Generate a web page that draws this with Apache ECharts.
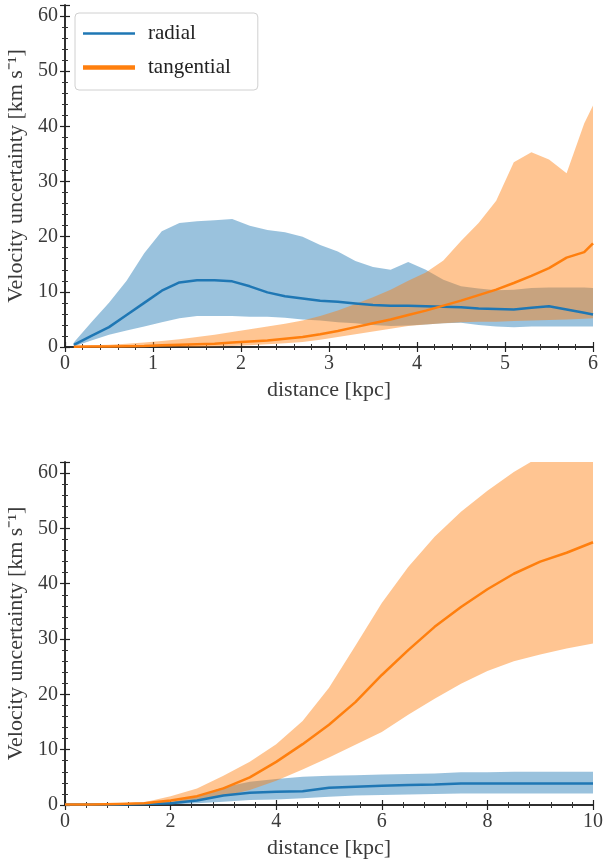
<!DOCTYPE html>
<html>
<head>
<meta charset="utf-8">
<script src="https://cdn.jsdelivr.net/npm/echarts@6/dist/echarts.min.js"></script>
<style>
  html, body { margin: 0; padding: 0; background: #fff; }
  #chart { width: 605px; height: 863px; }
</style>
</head>
<body>
<div id="chart"></div>
<script>
// ---- upper panel: distances out to 6 kpc ----
const distTop = [0.1, 0.3, 0.5, 0.7, 0.9, 1.1, 1.3, 1.5, 1.7, 1.9, 2.1, 2.3, 2.5, 2.7, 2.9, 3.1,
                 3.3, 3.5, 3.7, 3.9, 4.1, 4.3, 4.5, 4.7, 4.9, 5.1, 5.3, 5.5, 5.7, 5.9, 6.0];
const radialTop = [0.4, 2.0, 3.6, 5.8, 8.0, 10.2, 11.7, 12.1, 12.1, 11.9, 11.0, 9.9, 9.2, 8.8, 8.4, 8.2,
                   7.9, 7.6, 7.5, 7.5, 7.4, 7.3, 7.2, 7.0, 6.9, 6.8, 7.1, 7.4, 6.8, 6.2, 5.9];
const radialTopHi = [0.8, 4.5, 8.0, 12.0, 17.0, 21.0, 22.5, 22.8, 23.0, 23.2, 22.0, 21.2, 20.8, 20.0, 18.5, 17.3,
                     15.6, 14.5, 14.0, 15.4, 14.0, 12.2, 11.0, 10.6, 10.3, 10.4, 10.7, 10.8, 10.8, 10.8, 10.7];
const radialTopLo = [0.1, 1.2, 2.2, 3.0, 3.7, 4.5, 5.2, 5.6, 5.6, 5.6, 5.5, 5.5, 5.3, 5.0, 4.8, 4.5,
                     4.3, 4.0, 3.8, 3.9, 4.1, 4.3, 4.4, 4.0, 3.7, 3.6, 3.7, 3.7, 3.7, 3.7, 3.7];
const tangTop = [0.05, 0.1, 0.1, 0.15, 0.2, 0.3, 0.4, 0.5, 0.6, 0.8, 1.0, 1.2, 1.5, 1.8, 2.3, 2.9,
                 3.6, 4.3, 5.0, 5.8, 6.6, 7.5, 8.4, 9.4, 10.4, 11.6, 12.9, 14.3, 16.2, 17.2, 18.8];
const tangTopHi = [0.2, 0.3, 0.4, 0.6, 0.8, 1.1, 1.4, 1.8, 2.2, 2.7, 3.2, 3.7, 4.2, 4.8, 5.6, 6.6,
                   7.8, 9.0, 10.4, 12.0, 13.5, 15.7, 19.2, 22.5, 26.5, 33.5, 35.3, 34.0, 31.5, 40.5, 43.8];
const tangTopLo = [0.0, 0.0, 0.0, 0.0, 0.0, 0.0, 0.0, 0.0, 0.1, 0.2, 0.3, 0.5, 0.7, 0.9, 1.3, 1.8,
                   2.3, 2.8, 3.3, 3.8, 4.1, 4.3, 4.5, 4.6, 4.6, 4.7, 4.8, 4.9, 5.0, 5.1, 5.2];

// ---- lower panel: distances out to 10 kpc ----
const distBot = [0, 0.5, 1, 1.5, 2, 2.5, 3, 3.5, 4, 4.5, 5, 5.5, 6, 6.5, 7, 7.5, 8, 8.5, 9, 9.5, 10];
const radialBot = [0.1, 0.1, 0.1, 0.2, 0.3, 0.8, 1.7, 2.2, 2.4, 2.5, 3.1, 3.3, 3.5, 3.6, 3.7, 3.9, 3.9, 3.9, 3.9, 3.9, 3.9];
const radialBotHi = [0.2, 0.2, 0.2, 0.3, 0.5, 1.6, 3.2, 4.2, 4.7, 5.1, 5.3, 5.4, 5.5, 5.6, 5.7, 5.9, 5.9, 6.0, 6.0, 6.0, 6.0];
const radialBotLo = [0, 0, 0, 0.05, 0.1, 0.3, 0.6, 0.9, 1.0, 1.2, 1.5, 1.7, 1.8, 1.9, 2.0, 2.1, 2.1, 2.1, 2.1, 2.1, 2.1];
const tangBot = [0.1, 0.1, 0.2, 0.3, 0.8, 1.6, 3.0, 5.0, 7.8, 11.0, 14.5, 18.6, 23.5, 28.0, 32.2, 35.8, 39.0, 41.8, 44.0, 45.6, 47.5];
const tangBotHi = [0.2, 0.2, 0.3, 0.5, 1.6, 3.0, 5.3, 7.8, 11.0, 15.2, 21.2, 28.8, 36.5, 43.0, 48.5, 53.0, 56.8, 60.2, 63.0, 65.0, 67.0];
const tangBotLo = [0, 0, 0, 0.1, 0.3, 0.8, 1.6, 2.7, 4.4, 6.4, 8.6, 10.9, 13.2, 16.3, 19.2, 21.9, 24.2, 26.0, 27.2, 28.3, 29.2];

const yTicks = [0, 10, 20, 30, 40, 50, 60];
const yMax = 62;

const BLUE = '#1f77b4';
const ORANGE = '#ff7f0e';
const BLUE_BAND = 'rgba(31,119,180,0.45)';
const ORANGE_BAND = 'rgba(255,127,14,0.45)';
const FONT = 'Liberation Serif';

const pair = (xs, ys) => xs.map((x, i) => [x, ys[i]]);

// filled band between a lower and an upper curve, drawn as one polygon
function band(xs, lo, hi, color, axisIdx) {
  return {
    type: 'custom', xAxisIndex: axisIdx, yAxisIndex: axisIdx, silent: true, clip: true,
    data: [[xs[0], lo[0]]],
    encode: { x: 0, y: 1 },
    z: 1,
    renderItem(params, api) {
      const pts = [];
      for (let i = 0; i < xs.length; i++) pts.push(api.coord([xs[i], hi[i]]));
      for (let i = xs.length - 1; i >= 0; i--) pts.push(api.coord([xs[i], lo[i]]));
      const cs = params.coordSys;
      return {
        type: 'polygon', shape: { points: pts }, style: { fill: color },
        clipPath: { type: 'rect', shape: { x: cs.x, y: cs.y, width: cs.width, height: cs.height } }
      };
    }
  };
}

function median(name, xs, ys, color, axisIdx, width) {
  return {
    name, type: 'line', xAxisIndex: axisIdx, yAxisIndex: axisIdx,
    data: pair(xs, ys), showSymbol: false, symbol: 'none', z: 3,
    lineStyle: { color, width }, itemStyle: { color }
  };
}

const labelStyle = { fontFamily: FONT, fontSize: 20, color: '#3a3a3a' };
const titleStyle = { fontFamily: FONT, fontSize: 22, color: '#3a3a3a' };
const frameLine = { show: true, lineStyle: { color: '#222', width: 1.5 } };
const tickIn = { show: true, inside: true, length: 5, lineStyle: { color: '#222', width: 1.2 } };
const minorIn = { show: true, splitNumber: 5, length: 3, lineStyle: { color: '#333', width: 1 } };

function xAxes(grid, max, interval) {
  return [
    { type: 'value', gridIndex: grid, min: 0, max, interval, position: 'bottom',
      axisLine: frameLine, axisTick: tickIn, minorTick: minorIn, splitLine: { show: false },
      axisLabel: { ...labelStyle, margin: 7 },
      name: 'distance [kpc]', nameLocation: 'middle', nameGap: 32, nameTextStyle: titleStyle },
    { type: 'value', gridIndex: grid, min: 0, max, interval, position: 'top',
      axisLine: frameLine, axisTick: tickIn, minorTick: minorIn, splitLine: { show: false },
      axisLabel: { show: false } }
  ];
}
function yAxes(grid) {
  return [
    { type: 'value', gridIndex: grid, min: 0, max: yMax, interval: 10, position: 'left',
      axisLine: frameLine, axisTick: tickIn, minorTick: minorIn, splitLine: { show: false },
      axisLabel: { ...labelStyle, margin: 7, formatter: v => yTicks.includes(v) ? String(v) : '' },
      name: 'Velocity uncertainty [km s\u207B\u00B9]', nameLocation: 'middle', nameGap: 36, nameRotate: 90,
      nameTextStyle: titleStyle },
    { type: 'value', gridIndex: grid, min: 0, max: yMax, interval: 10, position: 'right',
      axisLine: frameLine, axisTick: tickIn, minorTick: minorIn, splitLine: { show: false },
      axisLabel: { show: false } }
  ];
}

const chart = echarts.init(document.getElementById('chart'), null, { renderer: 'canvas' });
chart.setOption({
  backgroundColor: '#fff',
  animation: false,
  grid: [
    { left: 65, right: 12, top: 5, height: 342, containLabel: false, outerBoundsMode: 'none' },
    { left: 65, right: 12, top: 462, height: 343, containLabel: false, outerBoundsMode: 'none' }
  ],
  xAxis: [...xAxes(0, 6, 1), ...xAxes(1, 10, 2)],
  yAxis: [...yAxes(0), ...yAxes(1)],
  legend: {
    left: 75, top: 13, orient: 'vertical',
    data: [
      { name: 'radial', icon: 'path://M0,0 L52,0 L52,2.5 L0,2.5 Z' },
      { name: 'tangential', icon: 'path://M0,0 L52,0 L52,4.5 L0,4.5 Z' }
    ],
    itemWidth: 52, itemHeight: 6, itemGap: 13,
    padding: [10, 27, 12, 8],
    backgroundColor: 'rgba(255,255,255,0.85)',
    borderColor: '#d0d0d0', borderWidth: 1, borderRadius: 4,
    textStyle: { fontFamily: FONT, fontSize: 21, color: '#222', padding: [0, 0, 0, 8] }
  },
  series: [
    // upper panel
    band(distTop, radialTopLo, radialTopHi, BLUE_BAND, 0),
    band(distTop, tangTopLo, tangTopHi, ORANGE_BAND, 0),
    median('radial', distTop, radialTop, BLUE, 0, 2.5),
    median('tangential', distTop, tangTop, ORANGE, 0, 2.5),
    // lower panel
    band(distBot, radialBotLo, radialBotHi, BLUE_BAND, 2),
    band(distBot, tangBotLo, tangBotHi, ORANGE_BAND, 2),
    median('radial', distBot, radialBot, BLUE, 2, 2.5),
    median('tangential', distBot, tangBot, ORANGE, 2, 2.5)
  ]
});
</script>
</body>
</html>
